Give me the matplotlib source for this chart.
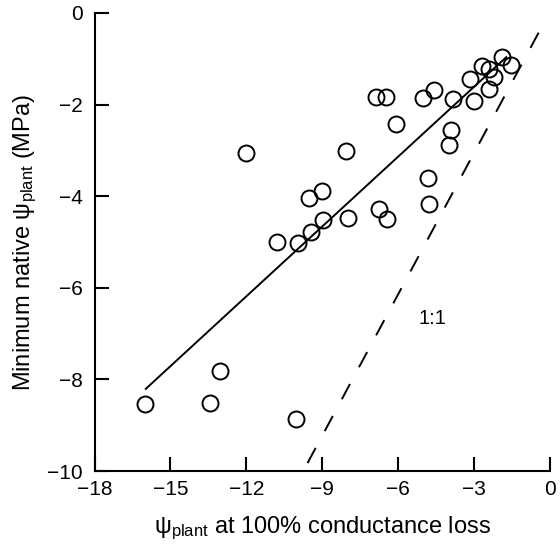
import matplotlib
matplotlib.use("Agg")
import matplotlib.pyplot as plt

plt.rcParams['font.family'] = ['Liberation Sans', 'DejaVu Sans']
plt.rcParams['mathtext.fontset'] = 'custom'
plt.rcParams['mathtext.rm'] = 'Liberation Sans'
plt.rcParams['mathtext.it'] = 'Liberation Sans:italic'
plt.rcParams['lines.scale_dashes'] = False

# Data: psi_plant at 100% conductance loss (x) vs minimum native psi_plant (y), MPa
x_loss = [-16.0, -13.45, -13.04, -10.02, -12.01, -10.8, -9.97, -9.45, -9.51,
          -9.02, -8.97, -8.06, -7.98, -6.89, -6.48, -6.75, -6.45, -6.1,
          -5.03, -4.58, -4.81, -4.77, -3.84, -3.92, -3.99, -3.16, -2.99,
          -2.67, -2.41, -2.2, -2.41, -1.91, -1.54]
y_native = [-8.54, -8.51, -7.82, -8.86, -3.05, -4.99, -5.03, -4.78, -4.05,
            -3.89, -4.52, -3.01, -4.48, -1.83, -1.84, -4.28, -4.50, -2.42,
            -1.86, -1.68, -3.61, -4.17, -1.88, -2.55, -2.88, -1.45, -1.92,
            -1.16, -1.23, -1.39, -1.67, -0.97, -1.14]

# Regression line end points
fit_x = [-16.0, -1.7]
fit_y = [-8.22, -0.95]

# 1:1 reference line (drawn top to bottom)
ref_x = [-0.45, -9.75]
ref_y = [-0.43, -10.0]

x_ticks = [-18, -15, -12, -9, -6, -3, 0]
y_ticks = [0, -2, -4, -6, -8, -10]

fig = plt.figure(figsize=(5.60, 5.51), dpi=100)
ax = fig.add_axes([94.5/560, 1-471/551, (550-94.5)/560, (471-13)/551])

ax.plot(fit_x, fit_y, color='black', lw=1.4, solid_capstyle='butt')
ax.plot(ref_x, ref_y, color='black', lw=1.4, linestyle=(0, (12.4, 13.7)),
        dash_capstyle='butt')
ax.plot(x_loss, y_native, linestyle='none', marker='o', markersize=11.5,
        markerfacecolor='none', markeredgecolor='black', markeredgewidth=1.4,
        clip_on=False)

ax.text(-4.64, -6.67, '1:1', ha='center', va='center', fontsize=14.5)

ax.set_xlim(-18, 0)
ax.set_ylim(-10, 0)
ax.set_xticks(x_ticks)
ax.set_yticks(y_ticks)
ax.set_xticklabels([str(t).replace('-', '\u2212') for t in x_ticks])
ax.set_yticklabels([str(t).replace('-', '\u2212') for t in y_ticks])

for s in ['top', 'right']:
    ax.spines[s].set_visible(False)
for s in ['left', 'bottom']:
    ax.spines[s].set_linewidth(1.5)

ax.tick_params(axis='both', direction='in', length=10, width=1.5, labelsize=15)
ax.tick_params(axis='x', pad=6.5)
ax.tick_params(axis='y', pad=8.5)

ax.set_xlabel(r'$\mathrm{\psi}_{\mathrm{plant}}$ at 100% conductance loss',
              fontsize=17, labelpad=11)
ax.set_ylabel(r'Minimum native $\mathrm{\psi}_{\mathrm{plant}}$ (MPa)',
              fontsize=17, labelpad=6)

fig.savefig('out.png', dpi=100)
